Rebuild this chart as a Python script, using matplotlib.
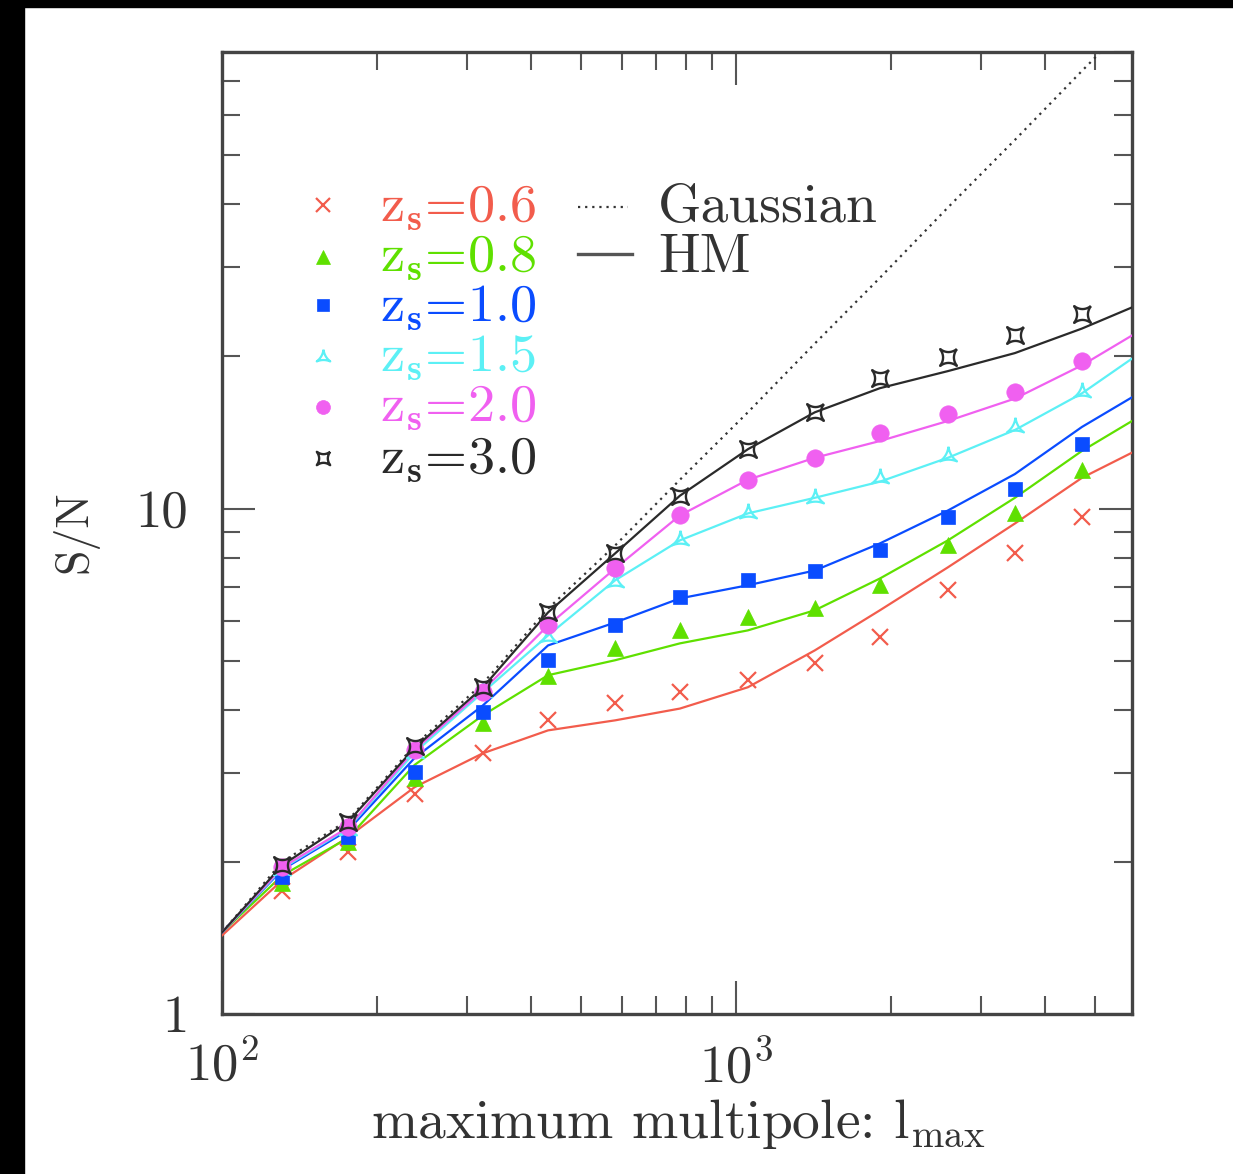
import matplotlib
matplotlib.use("Agg")
import matplotlib.pyplot as plt
import numpy as np
from matplotlib.ticker import FixedLocator, FixedFormatter, NullFormatter
from matplotlib.patches import Rectangle
from matplotlib.path import Path

plt.rcParams["font.family"] = ["cmr10", "DejaVu Serif"]
plt.rcParams["mathtext.fontset"] = "cm"
plt.rcParams["axes.formatter.use_mathtext"] = True

# maximum multipole sampled by the simulations
l_pts = [131, 176, 237, 322, 431, 582, 778, 1055, 1424, 1906, 2585, 3490, 4713]
# multipoles where the analytic curves are evaluated
l_line = [100, 131, 176, 237, 322, 431, 582, 778, 1055, 1424, 1906, 2585, 3490, 4713, 5900]

labels = ["0.6", "0.8", "1.0", "1.5", "2.0", "3.0"]
colors = ["#f25c4c", "#5fe000", "#0a4cff", "#5cf0f5", "#f060f0", "#2a2a2a"]

# simulation S/N per source redshift
sn_sim = [
    [1.75, 2.09, 2.72, 3.28, 3.81, 4.12, 4.33, 4.57, 4.94, 5.56, 6.89, 8.15, 9.60],
    [1.82, 2.19, 2.93, 3.76, 4.66, 5.29, 5.74, 6.09, 6.37, 7.05, 8.45, 9.78, 11.9],
    [1.87, 2.24, 3.01, 3.95, 5.01, 5.87, 6.67, 7.21, 7.54, 8.26, 9.60, 10.95, 13.4],
    [1.93, 2.31, 3.28, 4.33, 5.56, 7.14, 8.65, 9.78, 10.5, 11.5, 12.7, 14.5, 17.0],
    [1.95, 2.34, 3.33, 4.33, 5.87, 7.61, 9.69, 11.4, 12.6, 14.1, 15.4, 17.0, 19.6],
    [1.97, 2.40, 3.39, 4.43, 6.23, 8.15, 10.6, 13.1, 15.5, 18.1, 19.9, 22.0, 24.3],
]

# halo-model (HM) predictions per source redshift
sn_hm = [
    [1.43, 1.84, 2.24, 2.81, 3.28, 3.64, 3.81, 4.02, 4.43, 5.24, 6.29, 7.65, 9.34, 11.5, 12.9],
    [1.45, 1.88, 2.23, 3.11, 3.90, 4.68, 5.01, 5.41, 5.74, 6.29, 7.27, 8.65, 10.5, 13.0, 14.9],
    [1.45, 1.93, 2.31, 3.21, 4.08, 5.36, 5.95, 6.64, 7.05, 7.54, 8.53, 9.91, 11.7, 14.5, 16.6],
    [1.45, 1.94, 2.33, 3.29, 4.33, 5.61, 7.21, 8.65, 9.78, 10.5, 11.3, 12.6, 14.3, 16.9, 19.8],
    [1.45, 1.95, 2.34, 3.33, 4.37, 5.87, 7.61, 9.69, 11.4, 12.6, 13.6, 14.9, 16.5, 19.2, 22.0],
    [1.45, 1.97, 2.40, 3.36, 4.43, 6.23, 8.15, 10.6, 13.1, 15.5, 17.3, 18.7, 20.3, 22.7, 25.0],
]

# Gaussian-covariance prediction
sn_gauss = [1.45, 2.00, 2.42, 3.40, 4.51, 6.34, 8.45, 11.4, 15.5, 21.2, 28.6, 39.4, 53.6, 73.4, 92.5]


def concave(n, rot):
    """Star-like marker whose n sides curve inward."""
    verts = []
    for k in range(n):
        a0 = rot + 2 * np.pi * k / n
        a1 = rot + 2 * np.pi * (k + 1) / n
        p0 = np.array([np.cos(a0), np.sin(a0)])
        p1 = np.array([np.cos(a1), np.sin(a1)])
        mid = 0.3 * (p0 + p1) / 2
        for t in np.linspace(0, 1, 10, endpoint=False):
            verts.append((1 - t) ** 2 * p0 + 2 * (1 - t) * t * mid + t ** 2 * p1)
    verts.append(verts[0])
    return Path(verts)


tri_mark = concave(3, np.pi / 2)
sq_mark = concave(4, np.pi / 4)

markers = [
    dict(marker="x", ms=12, mew=1.6, mfc="none"),
    dict(marker="^", ms=12, mew=0.5),
    dict(marker="s", ms=10, mew=0.5),
    dict(marker=tri_mark, ms=14, mew=1.6, mfc="none"),
    dict(marker="o", ms=12.5, mew=0.5),
    dict(marker=sq_mark, ms=12, mew=1.7, mfc="none"),
]

fig = plt.figure(figsize=(12.33, 11.74), dpi=100)
ax = fig.add_axes([0.18005, 0.13629, 0.7381, 0.8194])

ax.plot(l_line, sn_gauss, color="#333333", lw=1.6, ls=(0, (1, 2.2)), zorder=2)
for c, hm in zip(colors, sn_hm):
    ax.plot(l_line, hm, color=c, lw=1.6, zorder=3)
for c, sim, mk in zip(colors, sn_sim, markers):
    kw = dict(mk)
    mfc = kw.pop("mfc", c)
    ax.plot(l_pts, sim, ls="none", color=c, mfc=mfc, mec=c, zorder=4, **kw)

ax.set_xscale("log")
ax.set_yscale("log")
ax.set_xlim(100, 5900)
ax.set_ylim(1, 80)

ax.xaxis.set_major_locator(FixedLocator([100, 1000]))
ax.xaxis.set_major_formatter(FixedFormatter([r"$10^{2}$", r"$10^{3}$"]))
ax.xaxis.set_minor_locator(FixedLocator([200, 300, 400, 500, 600, 700, 800, 900,
                                         2000, 3000, 4000, 5000]))
ax.xaxis.set_minor_formatter(NullFormatter())
ax.yaxis.set_major_locator(FixedLocator([1, 10]))
ax.yaxis.set_major_formatter(FixedFormatter(["1", "10"]))
ax.yaxis.set_minor_locator(FixedLocator([2, 3, 4, 5, 6, 7, 8, 9,
                                         20, 30, 40, 50, 60, 70, 80]))
ax.yaxis.set_minor_formatter(NullFormatter())

tick_col = "#555555"
ax.tick_params(which="both", direction="in", top=True, right=True,
               color=tick_col, width=1.5, labelcolor="#333333")
ax.tick_params(which="major", length=24, labelsize=38)
ax.tick_params(which="minor", length=13)
ax.tick_params(axis="x", which="major", pad=19)
ax.tick_params(axis="y", which="major", pad=24)
for sp in ax.spines.values():
    sp.set_color("#444444")
    sp.set_linewidth(2.4)

fig.text(75 / 1233, 1 - 532 / 1174, "S/N", rotation=90, ha="center", va="center",
         fontsize=33, color="#333333")
fig.text(678 / 1233, 1 - 1138 / 1174, r"maximum multipole: $\mathrm{l_{max}}$",
         ha="center", va="baseline", fontsize=40, color="#333333")

# key: simulation symbols and source redshifts
mark_y = [0.841, 0.787, 0.737, 0.683, 0.631, 0.578]
base_y = [0.8233, 0.7713, 0.7193, 0.6674, 0.6154, 0.5613]
for c, lab, mk, my, by in zip(colors, labels, markers, mark_y, base_y):
    kw = dict(mk)
    mfc = kw.pop("mfc", c)
    kw["ms"] = kw["ms"] * 0.8
    ax.plot([0.111], [my], transform=ax.transAxes, ls="none", color=c,
            mfc=mfc, mec=c, clip_on=False, **kw)
    ax.text(0.1736, by, r"$\mathrm{z_{\mathbf{s}}}$=" + lab, transform=ax.transAxes,
            color=c, fontsize=39, va="baseline", ha="left")

# key: line styles
ax.plot([0.391, 0.446], [0.839, 0.839], transform=ax.transAxes, color="#333333",
        lw=1.6, ls=(0, (1, 2.2)))
ax.plot([0.391, 0.451], [0.790, 0.790], transform=ax.transAxes, color="#555555",
        lw=2.4)
ax.text(0.479, 0.8233, "Gaussian", transform=ax.transAxes, fontsize=40,
        color="#333333", va="baseline")
ax.text(0.479, 0.7713, "HM", transform=ax.transAxes, fontsize=40,
        color="#333333", va="baseline")

# dark frame along the top and left edges
fig.add_artist(Rectangle((0, 1 - 7 / 1174), 1, 7 / 1174, transform=fig.transFigure,
                         color="black", zorder=10))
fig.add_artist(Rectangle((0, 0), 24 / 1233, 1, transform=fig.transFigure,
                         color="black", zorder=10))

fig.savefig("out.png", dpi=100)
